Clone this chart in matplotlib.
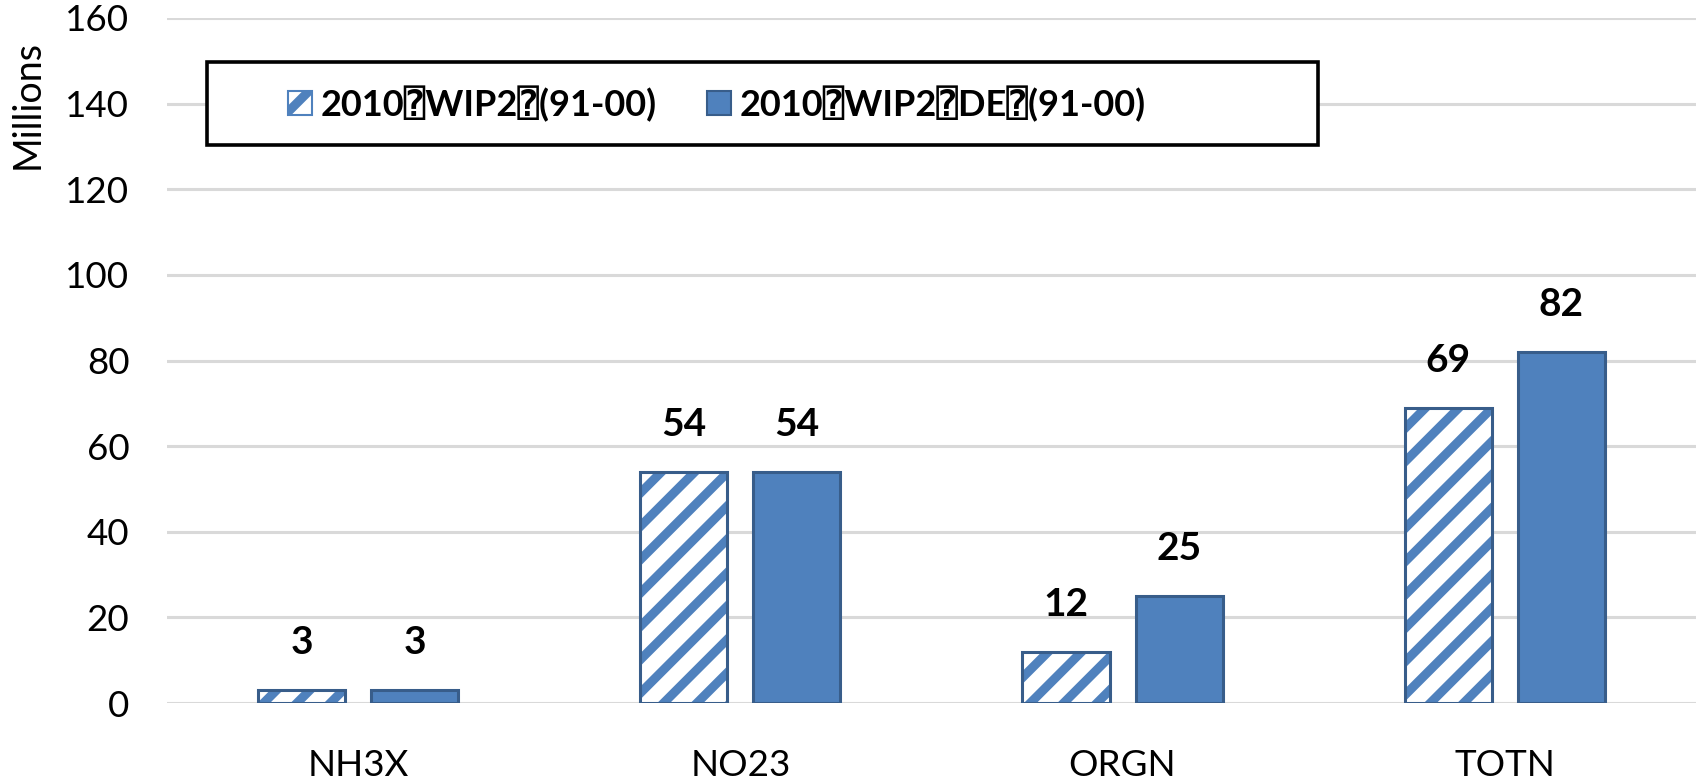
import matplotlib
matplotlib.use('Agg')
import matplotlib.pyplot as plt
from matplotlib.patches import Rectangle, Patch
import numpy as np

# loads by nitrogen species
species = ['NH3X', 'NO23', 'ORGN', 'TOTN']
wip2 = [3, 54, 12, 69]
wip2_de = [3, 54, 25, 82]
labels = ['2010\u2370WIP2\u2370(91-00)', '2010\u2370WIP2\u2370DE\u2370(91-00)']
yticks = [0, 20, 40, 60, 80, 100, 120, 140, 160]

blue = '#4F81BD'
dark = '#385D8A'
plt.rcParams['font.family'] = ['Lato', 'DejaVu Sans', 'DejaVu Sans Mono']
plt.rcParams['hatch.linewidth'] = 6.5

fig = plt.figure(figsize=(17, 7.82), dpi=100)
ax = fig.add_axes([0.0982, 0.101, 0.8994, 0.876])

x = np.arange(len(species))
w = 0.228
off = 0.148

# hatched series: white face, blue stripes, dark outline on top
ax.bar(x - off, wip2, w, color='white', edgecolor=blue, hatch='/', linewidth=0, zorder=3)
ax.bar(x - off, wip2, w, fill=False, edgecolor=dark, linewidth=2.2, zorder=4)
ax.bar(x + off, wip2_de, w, color=blue, edgecolor=dark, linewidth=2.2, zorder=3)

for xs, vals in ((x - off, wip2), (x + off, wip2_de)):
    for xi, v in zip(xs, vals):
        ax.annotate(str(v), (xi, v), xytext=(0, 34), textcoords='offset points',
                    ha='center', va='center', fontsize=28, fontweight='bold')

ax.set_xlim(-0.5, 3.5)
ax.set_ylim(0, 160)
ax.set_yticks(yticks)
ax.set_xticks(x)
ax.set_xticklabels(species)
ax.tick_params(axis='both', length=0, labelsize=26.5)
ax.tick_params(axis='y', pad=27)
ax.tick_params(axis='x', pad=33)
ax.grid(axis='y', color='#D9D9D9', linewidth=2.2, zorder=0)
ax.set_axisbelow(True)
for s in ax.spines.values():
    s.set_visible(False)

fig.text(0.016, 0.866, 'Millions', rotation=90, ha='center', va='center', fontsize=27)

# legend box
box = Rectangle((0.026, 0.815), 0.727, 0.121, transform=ax.transAxes,
                facecolor='white', edgecolor='black', linewidth=2.6, zorder=5)
ax.add_patch(box)
handles = [Patch(facecolor='white', edgecolor=blue, hatch='/', linewidth=1.5),
           Patch(facecolor=blue, edgecolor=dark, linewidth=1.5)]
leg = ax.legend(handles, labels, ncol=2, loc='center left', bbox_to_anchor=(0.058, 0.875),
                frameon=False, handlelength=0.65, handleheight=0.65, handletextpad=0.25,
                columnspacing=1.4, prop={'weight': 'bold', 'size': 26})
leg.set_zorder(6)

fig.savefig('out.png', dpi=100)
